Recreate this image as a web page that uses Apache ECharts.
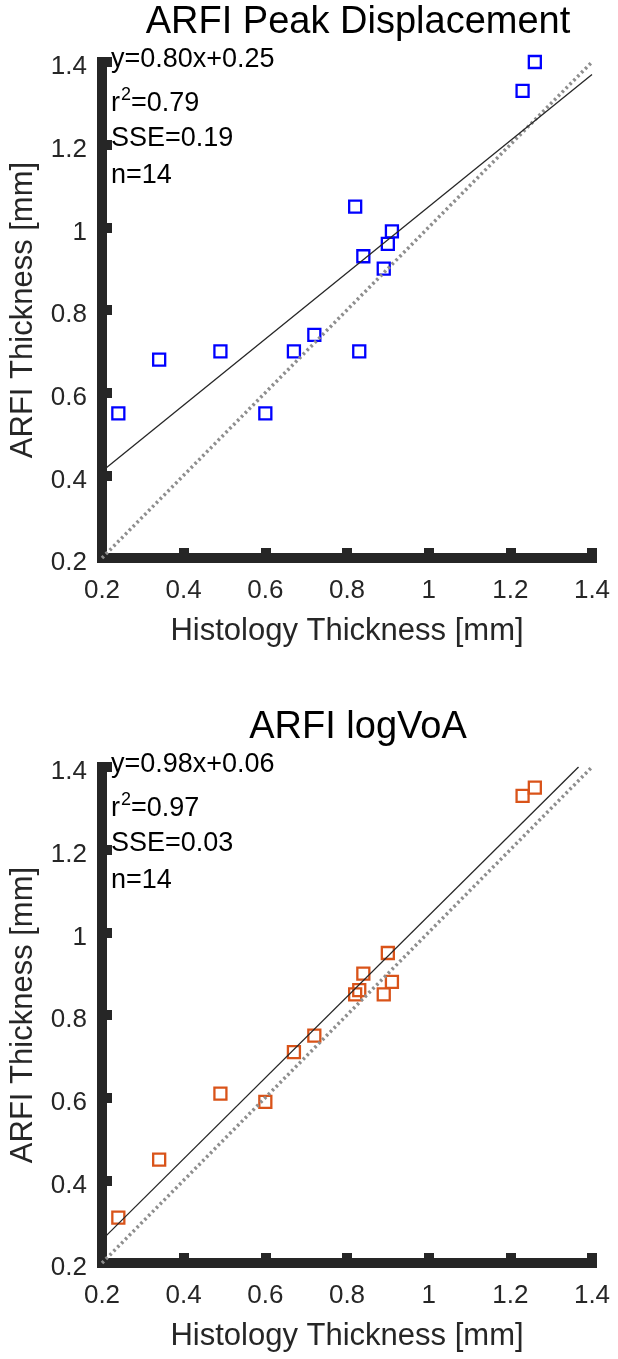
<!DOCTYPE html>
<html>
<head>
<meta charset="utf-8">
<script src="https://cdn.jsdelivr.net/npm/echarts@6/dist/echarts.min.js"></script>
<style>
html,body{margin:0;padding:0;background:#fff;}
#chart{width:618px;height:1359px;}
</style>
</head>
<body>
<div id="chart"></div>
<script>
// ---- data ----
const histology = [0.24, 0.34, 0.49, 0.60, 0.67, 0.72, 0.82, 0.83, 0.84, 0.89, 0.90, 0.91, 1.23, 1.26];
const peakDisp  = [0.55, 0.68, 0.70, 0.55, 0.70, 0.74, 1.05, 0.70, 0.93, 0.90, 0.96, 0.99, 1.33, 1.40];
const logVoA    = [0.31, 0.45, 0.61, 0.59, 0.71, 0.75, 0.85, 0.86, 0.90, 0.85, 0.95, 0.88, 1.33, 1.35];
const fitPeak   = [[0.2, 0.41], [1.4, 1.37]];
const fitVoA    = [[0.2, 0.256], [1.367, 1.4]];
const identity  = [[0.2, 0.2], [1.4, 1.4]];
const titles    = ['ARFI Peak Displacement', 'ARFI logVoA'];
const statsPeak = ['y=0.80x+0.25', '0.79', 'SSE=0.19', 'n=14'];
const statsVoA  = ['y=0.98x+0.06', '0.97', 'SSE=0.03', 'n=14'];
const axisTicks = { min: 0.2, max: 1.4, interval: 0.2 };
const xName = 'Histology Thickness [mm]';
const yName = 'ARFI Thickness [mm]';

const AX = '#262626';
const FONT = 'Liberation Sans, Arial, sans-serif';

const grids = [
  { left: 100, top: 62, width: 492, height: 496 },
  { left: 100, top: 767, width: 492, height: 496 }
];

function fmt(v) { return String(+v.toFixed(1)); }

function axisCommon(isX) {
  const label = {
    color: AX, fontFamily: FONT, fontSize: 26,
    margin: isX ? 20 : 15,
    formatter: fmt,
    showMinLabel: true, showMaxLabel: true
  };
  if (!isX) { label.verticalAlign = 'top'; label.lineHeight = 10; }
  return {
    type: 'value',
    min: axisTicks.min, max: axisTicks.max, interval: axisTicks.interval,
    splitLine: { show: false },
    axisLine: { show: true, onZero: false, lineStyle: { color: AX, width: 10, cap: 'square' } },
    axisTick: { show: true, inside: true, length: 10, lineStyle: { color: AX, width: 10 } },
    axisLabel: label,
    nameLocation: 'middle',
    nameTextStyle: { color: AX, fontFamily: FONT, fontSize: 31 }
  };
}

const xAxes = [0, 1].map(i => Object.assign(axisCommon(true), { gridIndex: i, name: xName, nameGap: 58 }));
const yAxes = [0, 1].map(i => Object.assign(axisCommon(false), { gridIndex: i, name: yName, nameGap: 63 }));

function scatterData(ys) { return histology.map((x, i) => [x, ys[i]]); }

const series = [];
[[peakDisp, fitPeak, '#0000FF'], [logVoA, fitVoA, '#D95319']].forEach(([ys, fit, col], i) => {
  series.push({
    type: 'scatter', xAxisIndex: i, yAxisIndex: i,
    data: scatterData(ys),
    symbol: 'rect', symbolSize: 12,
    itemStyle: { color: 'rgba(0,0,0,0)', borderColor: col, borderWidth: 2.3, opacity: 1 },
    z: 2, silent: true
  });
  series.push({
    type: 'line', xAxisIndex: i, yAxisIndex: i,
    data: identity, symbol: 'none',
    lineStyle: { color: '#8e8e8e', width: 3.5, type: [2.5, 3], cap: 'butt' },
    z: 3, silent: true
  });
  series.push({
    type: 'line', xAxisIndex: i, yAxisIndex: i,
    data: fit, symbol: 'none',
    lineStyle: { color: '#262626', width: 1.3 },
    z: 4, silent: true
  });
});

function textEl(x, y, text, size, align) {
  return {
    type: 'text', x: x, y: y, z: 10,
    style: { text: text, fill: '#000', font: size + 'px ' + FONT, align: align || 'left', verticalAlign: 'middle' }
  };
}

const graphic = [];
[[statsPeak, 0], [statsVoA, 1]].forEach(([s, i]) => {
  const t = grids[i].top;
  const x0 = 111;
  graphic.push(textEl(358, t - 39, titles[i], 38, 'center'));
  graphic.push(textEl(x0, t - 2, s[0], 27));
  graphic.push(textEl(x0, t + 42, 'r', 27));
  graphic.push(textEl(x0 + 10, t + 33, '2', 18));
  graphic.push(textEl(x0 + 20, t + 42, '=' + s[1], 27));
  graphic.push(textEl(x0, t + 77, s[2], 27));
  graphic.push(textEl(x0, t + 114, s[3], 27));
});

const chart = echarts.init(document.getElementById('chart'), null, { renderer: 'canvas' });
chart.setOption({
  backgroundColor: '#fff',
  animation: false,
  grid: grids,
  xAxis: xAxes,
  yAxis: yAxes,
  series: series,
  graphic: graphic
});
</script>
</body>
</html>
